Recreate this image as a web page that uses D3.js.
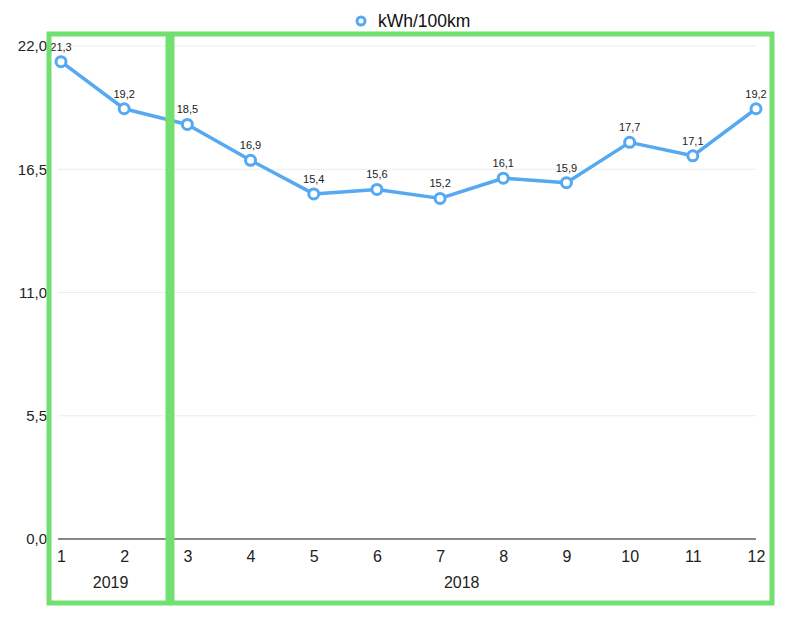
<!DOCTYPE html>
<html lang="en">
<head>
<meta charset="UTF-8">
<title>kWh/100km</title>
<script src="https://d3js.org/d3.v7.min.js"></script>
<style>
    body { margin: 0; background: #fff; }
    svg { font-family: "Liberation Sans", Arial, sans-serif; }
    .y-axis text { font-size: 15px; fill: #222; }
    .x-axis text { font-size: 16px; fill: #222; }
    .label { font-size: 11px; fill: #222; text-anchor: middle; }
</style>
</head>
<body>
<svg width="800" height="619"></svg>
<script>
    // chart data
    const months = ["1", "2", "3", "4", "5", "6", "7", "8", "9", "10", "11", "12"];
    const consumption = [21.3, 19.2, 18.5, 16.9, 15.4, 15.6, 15.2, 16.1, 15.9, 17.7, 17.1, 19.2];
    const yTicks = [0, 5.5, 11, 16.5, 22];
    const years = ["2019", "2018"];
    const seriesName = "kWh/100km";

    const blue = "#55a9f1";
    const green = "#72e070";
    const fmt = v => d3.format(".1f")(v).replace(".", ",");

    const svg = d3.select("svg");

    const x = d3.scalePoint()
        .domain(months)
        .range([61, 756]);

    const y = d3.scaleLinear()
        .domain([0, 22])
        .range([539, 46]);

    // grid lines
    svg.append("g")
        .selectAll("line")
        .data(yTicks.filter(d => d > 0))
        .join("line")
        .attr("x1", 58)
        .attr("x2", 756)
        .attr("y1", d => y(d))
        .attr("y2", d => y(d))
        .attr("stroke", "#ececec")
        .attr("stroke-width", 1);

    // y axis
    const yAxis = svg.append("g")
        .attr("class", "y-axis")
        .attr("transform", "translate(47,0)")
        .call(d3.axisLeft(y).tickValues(yTicks).tickFormat(fmt).tickSize(0).tickPadding(0));
    yAxis.select(".domain").remove();
    yAxis.selectAll("text").attr("font-family", null).attr("font-size", null).attr("dy", "0.32em");

    // baseline
    svg.append("line")
        .attr("x1", 58)
        .attr("x2", 756)
        .attr("y1", y(0))
        .attr("y2", y(0))
        .attr("stroke", "#111")
        .attr("stroke-width", 1.2);

    // x axis
    const xAxis = svg.append("g")
        .attr("class", "x-axis")
        .attr("transform", "translate(0," + y(0) + ")")
        .call(d3.axisBottom(x).tickSize(0).tickPadding(12));
    xAxis.select(".domain").remove();
    xAxis.selectAll("text").attr("font-family", null).attr("font-size", null);

    // year labels (under months 1-2 and 3-12)
    const yearX = [(x("1") + x("2")) / 2 + 18, (x("3") + x("12")) / 2 - 10];
    svg.append("g")
        .selectAll("text")
        .data(years)
        .join("text")
        .attr("x", (d, i) => yearX[i])
        .attr("y", 588)
        .attr("text-anchor", "middle")
        .attr("font-size", 16)
        .attr("fill", "#222")
        .text(d => d);

    // line
    const pts = months.map((m, i) => ({m: m, v: consumption[i]}));
    svg.append("path")
        .datum(pts)
        .attr("fill", "none")
        .attr("stroke", blue)
        .attr("stroke-width", 3.5)
        .attr("stroke-linejoin", "round")
        .attr("d", d3.line().x(d => x(d.m)).y(d => y(d.v)));

    svg.append("g")
        .selectAll("circle")
        .data(pts)
        .join("circle")
        .attr("cx", d => x(d.m))
        .attr("cy", d => y(d.v))
        .attr("r", 5)
        .attr("fill", "#fff")
        .attr("stroke", blue)
        .attr("stroke-width", 3);

    svg.append("g")
        .selectAll("text")
        .data(pts)
        .join("text")
        .attr("class", "label")
        .attr("x", d => x(d.m))
        .attr("y", d => y(d.v) - 11)
        .text(d => fmt(d.v));

    // legend
    svg.append("circle")
        .attr("cx", 361)
        .attr("cy", 21)
        .attr("r", 4)
        .attr("fill", "#fff")
        .attr("stroke", blue)
        .attr("stroke-width", 3);
    svg.append("text")
        .attr("x", 378)
        .attr("y", 27)
        .attr("font-size", 17.5)
        .attr("fill", "#111")
        .text(seriesName);

    // green highlight boxes
    const boxes = svg.append("g");
    boxes.append("rect")
        .attr("x", 49).attr("y", 34).attr("width", 119).attr("height", 569)
        .attr("fill", "none").attr("stroke", green).attr("stroke-width", 5);
    boxes.append("rect")
        .attr("x", 172).attr("y", 34).attr("width", 600).attr("height", 569)
        .attr("fill", "none").attr("stroke", green).attr("stroke-width", 5);
</script>
</body>
</html>
